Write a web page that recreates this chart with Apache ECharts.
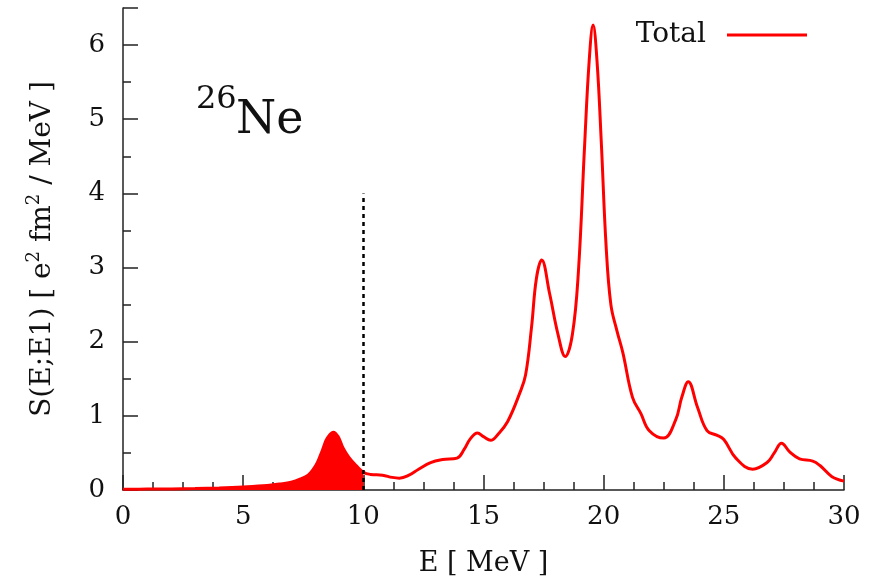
<!DOCTYPE html>
<html>
<head>
<meta charset="utf-8">
<script src="https://cdn.jsdelivr.net/npm/echarts@6/dist/echarts.min.js"></script>
<style>
  html, body { margin: 0; padding: 0; background: #fff; }
  #main { width: 887px; height: 582px; }
</style>
</head>
<body>
<div id="main"></div>
<script>
// E [MeV] and S(E;E1)
var energies = [0, 1, 2, 3, 4, 5, 5.5, 6, 6.5, 7, 7.4, 7.7, 7.9, 8.1, 8.3, 8.5, 8.75, 8.95, 9.15, 9.4, 9.7, 10,
  10.3, 10.8, 11.2, 11.5, 11.9, 12.3, 12.8, 13.3, 13.9, 14.2, 14.45, 14.75, 15.0, 15.3, 15.6, 16.0, 16.5, 16.75,
  17.0, 17.2, 17.42, 17.75, 18.1, 18.4, 18.7, 18.95, 19.2, 19.4, 19.56, 19.72, 19.9, 20.1, 20.3, 20.55, 20.8,
  21.2, 21.55, 21.9, 22.5, 23.0, 23.25, 23.52, 23.9, 24.3, 24.7, 25.0, 25.5, 26.2, 26.8, 27.1, 27.4, 27.75,
  28.15, 28.7, 29.0, 29.5, 30];
var strength = [0.01, 0.012, 0.015, 0.02, 0.028, 0.04, 0.05, 0.062, 0.08, 0.105, 0.15, 0.2, 0.27, 0.38, 0.54, 0.7, 0.78, 0.72, 0.57, 0.44, 0.33, 0.24,
  0.21, 0.2, 0.17, 0.16, 0.2, 0.28, 0.37, 0.41, 0.43, 0.55, 0.69, 0.77, 0.72, 0.67, 0.75, 0.92, 1.3, 1.55,
  2.2, 2.85, 3.1, 2.65, 2.1, 1.8, 2.1, 2.95, 4.6, 5.8, 6.27, 5.8, 4.7, 3.3, 2.5, 2.15, 1.85,
  1.25, 1.03, 0.8, 0.7, 0.95, 1.25, 1.46, 1.12, 0.8, 0.74, 0.68, 0.43, 0.28, 0.37, 0.5, 0.63, 0.51,
  0.42, 0.39, 0.33, 0.18, 0.12];
var thresholdE = 10;     // dotted line position
var thresholdTop = 4;    // dotted line height
var xTicks = [0, 5, 10, 15, 20, 25, 30];
var yTicks = [0, 1, 2, 3, 4, 5, 6];

var serif = 'DejaVu Serif';
var red = '#ff0000';

var totalData = energies.map(function (e, i) { return [e, strength[i]]; });
var lowData = totalData.filter(function (p) { return p[0] <= thresholdE; });

var myChart = echarts.init(document.getElementById('main'));
var option = {
  animation: false,
  backgroundColor: '#fff',
  grid: { left: 123, right: 43, top: 8, bottom: 91 },
  legend: {
    data: ['Total'],
    right: 75,
    top: 16,
    align: 'right',
    icon: 'rect',
    itemWidth: 80,
    itemHeight: 3,
    itemGap: 10,
    textStyle: { fontFamily: serif, fontSize: 28, color: '#111', padding: [0, 16, 0, 0] }
  },
  graphic: [{
    type: 'text', left: 196, top: 84,
    style: { text: '26', font: '32px "DejaVu Serif"', fill: '#111' }
  }, {
    type: 'text', left: 236, top: 98,
    style: { text: 'Ne', font: '46px "DejaVu Serif"', fill: '#111' }
  }],
  xAxis: {
    type: 'value',
    min: xTicks[0], max: xTicks[xTicks.length - 1], interval: 5,
    name: 'E [ MeV ]',
    nameLocation: 'middle',
    nameGap: 60,
    nameTextStyle: { fontFamily: serif, fontSize: 27, color: '#111' },
    axisLine: { lineStyle: { color: '#222', width: 1.5 } },
    axisTick: { inside: true, length: 15, lineStyle: { color: '#222', width: 1.5 } },
    minorTick: { show: true, splitNumber: 4, length: 8, lineStyle: { color: '#222', width: 1.5 } },
    axisLabel: { fontFamily: serif, fontSize: 26, color: '#111', margin: 14 },
    splitLine: { show: false }
  },
  yAxis: {
    type: 'value',
    min: yTicks[0], max: 6.5, interval: 1,
    name: 'S(E;E1) [ e{sup|2} fm{sup|2} / MeV ]',
    nameLocation: 'middle',
    nameGap: 62,
    nameTextStyle: {
      fontFamily: serif, fontSize: 28, color: '#111', lineHeight: 36,
      rich: { sup: { fontFamily: serif, fontSize: 18, color: '#111', verticalAlign: 'top', lineHeight: 36 } }
    },
    axisLine: { show: true, lineStyle: { color: '#222', width: 1.5 } },
    axisTick: { show: true, inside: true, length: 15, lineStyle: { color: '#222', width: 1.5 } },
    minorTick: { show: true, splitNumber: 2, length: 8, lineStyle: { color: '#222', width: 1.5 } },
    axisLabel: { fontFamily: serif, fontSize: 26, color: '#111', margin: 18, showMaxLabel: false },
    splitLine: { show: false }
  },
  series: [{
    name: 'low',
    type: 'line',
    data: lowData,
    smooth: 0.4,
    symbol: 'none',
    lineStyle: { width: 0 },
    areaStyle: { color: red, opacity: 1 },
    z: 2
  }, {
    name: 'Total',
    type: 'line',
    data: totalData,
    smooth: 0.4,
    symbol: 'none',
    color: red,
    lineStyle: { color: red, width: 3 },
    z: 3,
    markLine: {
      silent: true,
      symbol: 'none',
      label: { show: false },
      lineStyle: { color: '#000', type: [4, 4], width: 2.5 },
      data: [[{ coord: [thresholdE, 0] }, { coord: [thresholdE, thresholdTop] }]]
    }
  }]
};
myChart.setOption(option);
</script>
</body>
</html>
